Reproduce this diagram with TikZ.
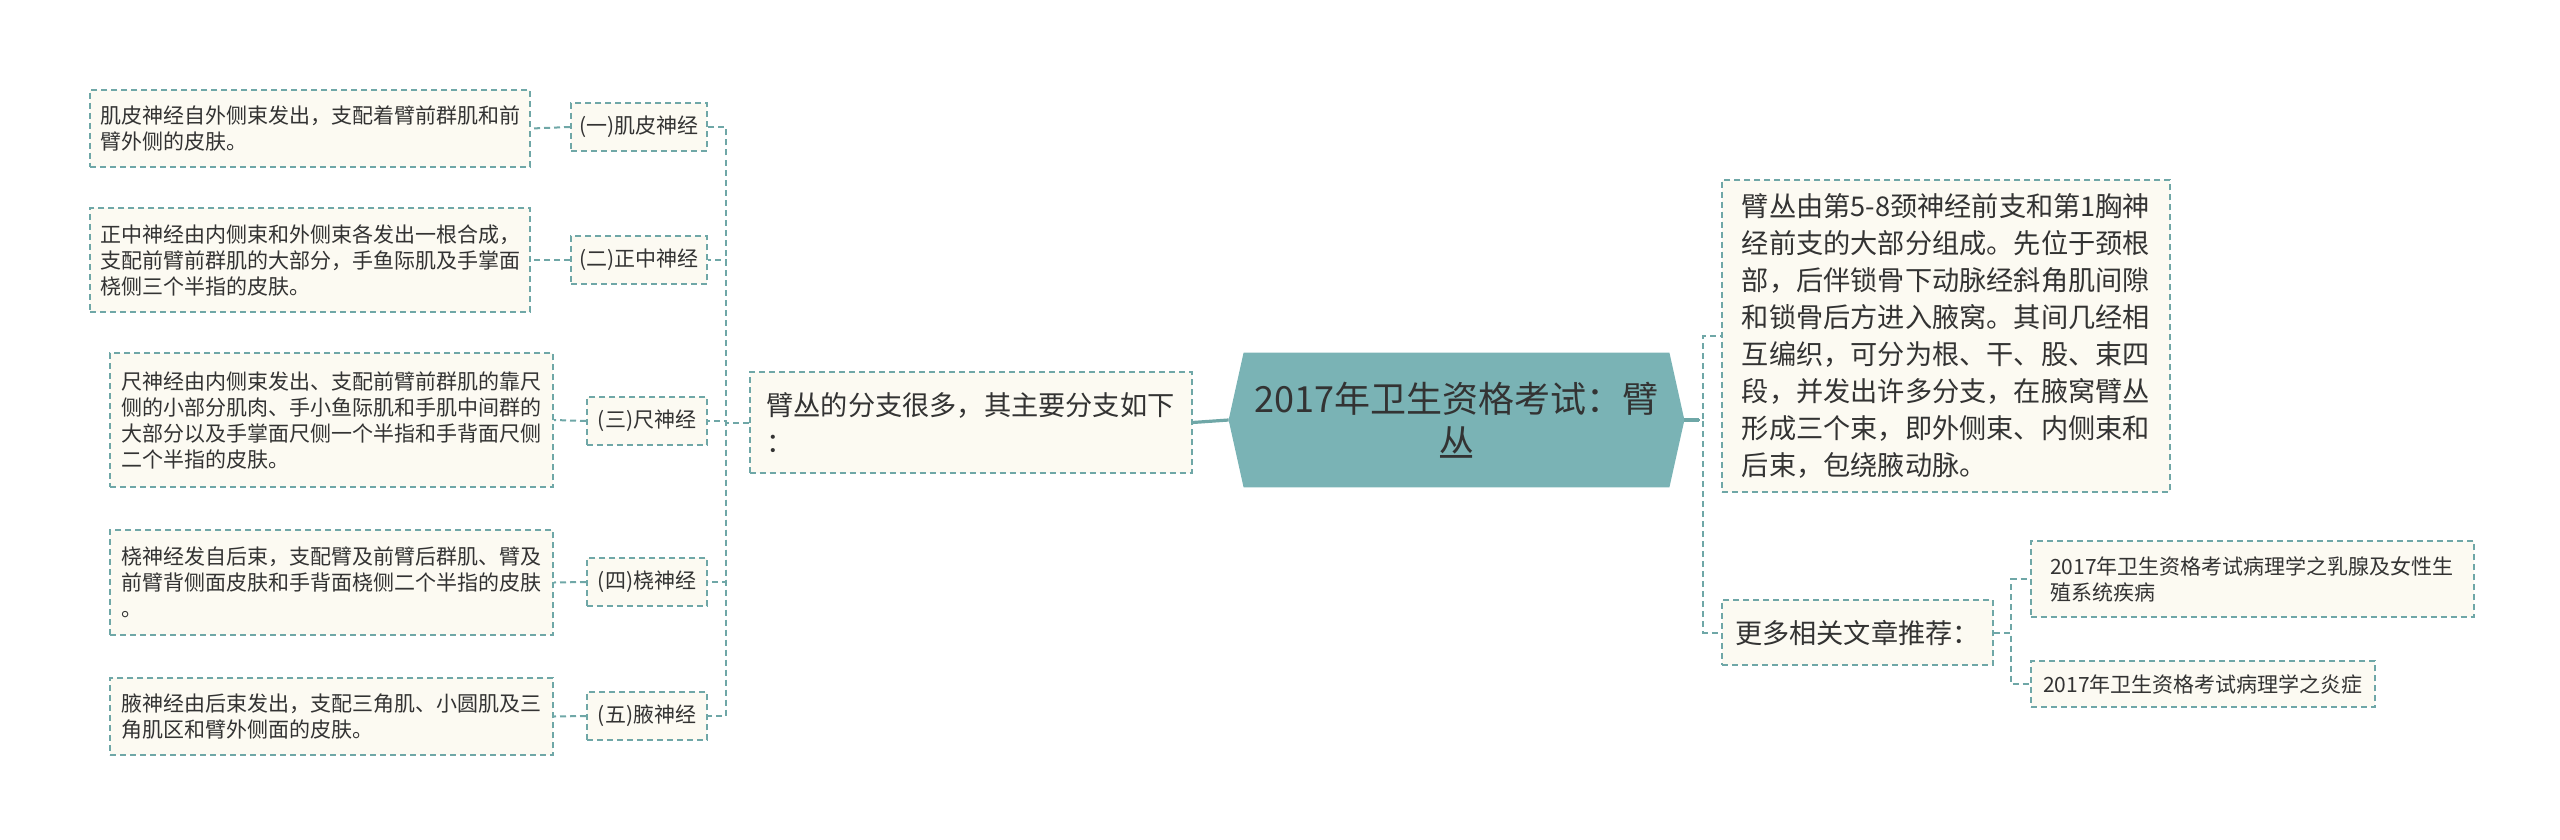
\documentclass[tikz,border=0pt]{standalone}
\usepackage{fontspec}
\setmainfont{Noto Sans CJK SC}
\definecolor{lineC}{HTML}{6FA7A7}
\definecolor{boxC}{HTML}{FCFAF2}
\definecolor{hexC}{HTML}{7AB3B5}
\definecolor{txtC}{HTML}{333333}
\begin{document}
\begin{tikzpicture}[x=0.5pt,y=-0.5pt,
  box/.style={draw=lineC, fill=boxC, dash pattern=on 3pt off 2pt, line width=1pt,
    align=left, inner sep=0pt, text=txtC},
  small/.style={font=\fontsize{10.5pt}{13pt}\selectfont},
  large/.style={font=\fontsize{13.6pt}{18.5pt}\selectfont},
  conn/.style={draw=lineC, dash pattern=on 3pt off 2pt, line width=1pt},
  solidconn/.style={draw=lineC, line width=1.6pt}]
\useasboundingbox (0,0) rectangle (2560,840);

% left text boxes
\node[box, small, minimum width=220pt, minimum height=38.5pt] (t1) at (310,128.5)
  {肌皮神经自外侧束发出，支配着臂前群肌和前\\臂外侧的皮肤。};
\node[box, small, minimum width=220pt, minimum height=52pt] (t2) at (310,260)
  {正中神经由内侧束和外侧束各发出一根合成，\\支配前臂前群肌的大部分，手鱼际肌及手掌面\\桡侧三个半指的皮肤。};
\node[box, small, minimum width=221.5pt, minimum height=67pt] (t3) at (331.5,420)
  {尺神经由内侧束发出、支配前臂前群肌的靠尺\\侧的小部分肌肉、手小鱼际肌和手肌中间群的\\大部分以及手掌面尺侧一个半指和手背面尺侧\\二个半指的皮肤。};
\node[box, small, minimum width=221.5pt, minimum height=52.5pt] (t4) at (331.5,582.5)
  {桡神经发自后束，支配臂及前臂后群肌、臂及\\前臂背侧面皮肤和手背面桡侧二个半指的皮肤\\。};
\node[box, small, minimum width=221.5pt, minimum height=38.5pt] (t5) at (331.5,716.5)
  {腋神经由后束发出，支配三角肌、小圆肌及三\\角肌区和臂外侧面的皮肤。};

% labels
\node[box, small, minimum width=68pt, minimum height=24pt] (l1) at (639,127) {(一)肌皮神经};
\node[box, small, minimum width=68pt, minimum height=24pt] (l2) at (639,260) {(二)正中神经};
\node[box, small, minimum width=60pt, minimum height=24pt] (l3) at (647,421) {(三)尺神经};
\node[box, small, minimum width=60pt, minimum height=24pt] (l4) at (647,582) {(四)桡神经};
\node[box, small, minimum width=60pt, minimum height=24pt] (l5) at (647,716) {(五)腋神经};

% branch box
\node[box, large, minimum width=221pt, minimum height=50.5pt] (b) at (970.5,422.5)
  {臂丛的分支很多，其主要分支如下\\：};

% center hexagon
\node[minimum width=227.5pt, minimum height=67pt, inner sep=0pt] (c) at (1456.5,420) {};
\fill[hexC] (c.west) -- ([xshift=7.5pt]c.north west) -- ([xshift=-7.5pt]c.north east)
  -- (c.east) -- ([xshift=-7.5pt]c.south east) -- ([xshift=7.5pt]c.south west) -- cycle;
\node[align=center, text=txtC, font=\fontsize{18pt}{22pt}\selectfont] (ct) at (c.center)
  {2017年卫生资格考试：臂\\丛};

% right boxes
\node[box, large, minimum width=224pt, minimum height=156pt] (r1) at (1946,336)
  {臂丛由第5-8颈神经前支和第1胸神\\经前支的大部分组成。先位于颈根\\部，后伴锁骨下动脉经斜角肌间隙\\和锁骨后方进入腋窝。其间几经相\\互编织，可分为根、干、股、束四\\段，并发出许多分支，在腋窝臂丛\\形成三个束，即外侧束、内侧束和\\后束，包绕腋动脉。};
\node[box, large, minimum width=135.5pt, minimum height=32.5pt] (m) at (1857.5,632.5)
  {更多相关文章推荐：};
\node[box, small, minimum width=221.5pt, minimum height=38pt] (k1) at (2252,579)
  {2017年卫生资格考试病理学之乳腺及女性生\\殖系统疾病};
\node[box, small, minimum width=172pt, minimum height=23pt] (k2) at (2203,684)
  {2017年卫生资格考试病理学之炎症};

% connectors left
\draw[solidconn] (c.west) -- (b.east);
\foreach \n in {l1,l2,l3,l4,l5}
  \draw[conn] (b.west) -- ++(-23,0) |- (\n.east);
\foreach \a/\bb in {l1/t1,l2/t2,l3/t3,l4/t4,l5/t5}
  \draw[conn] (\a.west) -- (\bb.east);

% connectors right
\draw[conn] (c.east) -- ++(19,0) |- (r1.west);
\draw[conn] (c.east) -- ++(19,0) |- (m.west);
\draw[solidconn] (c.east) -- ++(15,0);
\draw[conn] (m.east) -- ++(17,0) |- (k1.west);
\draw[conn] (m.east) -- ++(17,0) |- (k2.west);
\end{tikzpicture}
\end{document}
